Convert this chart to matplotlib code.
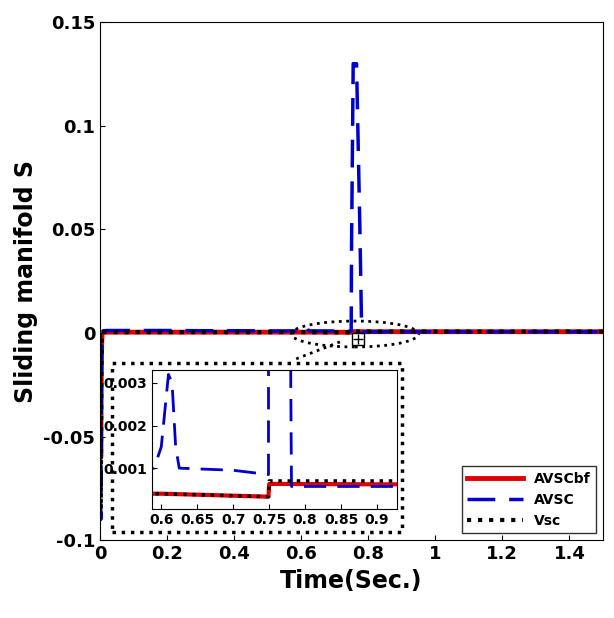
# %%
import numpy as np
import matplotlib.pyplot as plt
from matplotlib.patches import Ellipse, Rectangle

plt.rcParams['font.family'] = ['Liberation Sans Narrow', 'DejaVu Sans']
plt.rcParams['font.weight'] = 'bold'

# %%
# time points and values
t_avsc = [0.0, 0.002, 0.004, 0.006, 0.02, 0.1, 0.2, 0.3, 0.4, 0.5, 0.59, 0.6, 0.61, 0.615, 0.62, 0.625, 0.7, 0.749,
          0.75, 0.755, 0.765, 0.775, 0.78, 0.781, 0.9, 1.0, 1.2, 1.5]
s_avsc = [0.0, -0.09, -0.02, 0.001, 0.0012, 0.0012, 0.0012, 0.0011, 0.0011, 0.001, 0.001, 0.0015, 0.0032, 0.003,
          0.0015, 0.001, 0.00095, 0.00085, 0.04, 0.13, 0.13, 0.05, 0.003, 0.00057, 0.00057, 0.00057, 0.00057, 0.00057]
t_red = [0.0, 0.002, 0.004, 0.006, 0.3, 0.6, 0.749, 0.75, 0.9, 1.5]
s_red = [0.0, -0.06, -0.01, 0.0004, 0.0004, 0.0004, 0.00033, 0.00063, 0.00062, 0.00062]
t_vsc = [0.0, 0.002, 0.004, 0.006, 0.3, 0.6, 0.749, 0.75, 0.9, 1.5]
s_vsc = [0.0, -0.085, -0.015, 0.0004, 0.0004, 0.0004, 0.00033, 0.0007, 0.0007, 0.0007]

# %%
fig = plt.figure(figsize=(6.14, 6.18), dpi=100)
ax = fig.add_axes([0.163, 0.126, 0.819, 0.838])
ax.plot(t_red, s_red, color='#e00000', lw=3.5, label='AVSCbf')
ax.plot(t_avsc, s_avsc, color='#0000cc', lw=2.5, dashes=(8, 4), label='AVSC')
ax.plot(t_vsc, s_vsc, color='black', lw=3, ls=':', label='Vsc')
ax.set_xlim(0, 1.5)
ax.set_ylim(-0.1, 0.15)
ax.set_xticks(np.arange(0, 1.5, 0.2))
ax.set_xticklabels(['0', '0.2', '0.4', '0.6', '0.8', '1', '1.2', '1.4'])
ax.set_yticks([-0.1, -0.05, 0, 0.05, 0.1, 0.15])
ax.set_yticklabels(['-0.1', '-0.05', '0', '0.05', '0.1', '0.15'])
ax.tick_params(labelsize=13, direction='in')
ax.set_xlabel('Time(Sec.)', fontsize=17, fontweight='bold')
ax.set_ylabel('Sliding manifold S', fontsize=17, fontweight='bold')
ax.legend(loc='lower right', fontsize=10, handlelength=4, fancybox=False, edgecolor='black')

# zoom marks
ax.add_patch(Ellipse((0.76, -0.0005), 0.38, 0.0125, fill=False, ls=':', lw=2, color='black'))
ax.plot([0.585, 0.72], [-0.0125, -0.004], ls=':', lw=2, color='black')
ax.plot(0.77, -0.003, marker='s', ms=9, mfc='white', mec='black')
ax.plot(0.77, -0.003, marker='+', ms=7, color='black')
ax.add_patch(Rectangle((0.036, -0.0961), 0.864, 0.0816, fill=False, ls=':', lw=2.5, color='black'))

# %%
ins = fig.add_axes([0.248, 0.177, 0.399, 0.224])
ins.plot(t_red, s_red, color='#e00000', lw=3)
ins.plot(t_avsc, s_avsc, color='#0000cc', lw=2, dashes=(8, 4))
ins.plot(t_vsc, s_vsc, color='black', lw=2.5, ls=':')
ins.set_xlim(0.5875, 0.928)
ins.set_ylim(0.00005, 0.0033)
ins.set_xticks([0.6, 0.65, 0.7, 0.75, 0.8, 0.85, 0.9])
ins.set_xticklabels(['0.6', '0.65', '0.7', '0.75', '0.8', '0.85', '0.9'])
ins.set_yticks([0.001, 0.002, 0.003])
ins.set_yticklabels(['0.001', '0.002', '0.003'])
ins.tick_params(labelsize=10, direction='in')

fig.savefig('out.png', dpi=100)
